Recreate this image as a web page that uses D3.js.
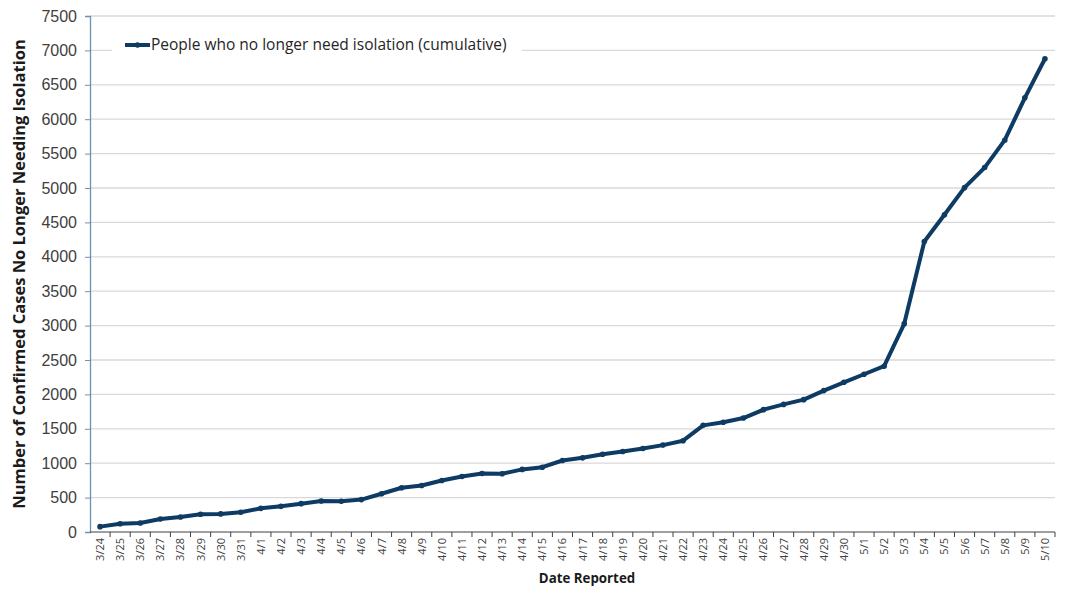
<!DOCTYPE html>
<html>
<head>
<meta charset="utf-8">
<script src="https://cdn.jsdelivr.net/npm/d3@7"></script>
<style>
  body { margin: 0; background: #fff; }
  svg { font-family: "Open Sans", Lato, sans-serif; }
  .grid line { stroke: #d9d9d9; stroke-width: 1.3; }
  .y-axis text { font-size: 16px; fill: #404040; }
  .x-axis text { font-size: 11px; fill: #404040; }
</style>
</head>
<body>
<svg></svg>
<script>
const w = 1066;
const h = 589;

// Data
const dates = ["3/24", "3/25", "3/26", "3/27", "3/28", "3/29", "3/30", "3/31",
  "4/1", "4/2", "4/3", "4/4", "4/5", "4/6", "4/7", "4/8", "4/9", "4/10",
  "4/11", "4/12", "4/13", "4/14", "4/15", "4/16", "4/17", "4/18", "4/19", "4/20",
  "4/21", "4/22", "4/23", "4/24", "4/25", "4/26", "4/27", "4/28", "4/29", "4/30",
  "5/1", "5/2", "5/3", "5/4", "5/5", "5/6", "5/7", "5/8", "5/9", "5/10"];
const noLongerIsolated = [78, 121, 131, 189, 219, 257, 263, 287,
  344, 373, 412, 450, 447, 471, 556, 643, 675, 748,
  806, 850, 846, 910, 942, 1039, 1078, 1131, 1171, 1214,
  1263, 1327, 1550, 1596, 1656, 1778, 1855, 1924, 2055, 2176,
  2293, 2410, 3026, 4222, 4612, 5005, 5297, 5695, 6310, 6879];
const yTicks = d3.range(0, 7501, 500);
const seriesName = "People who no longer need isolation (cumulative)";

const margin = {top: 16, right: 11, bottom: 57, left: 90};

const svg = d3.select("svg")
    .attr("width", w)
    .attr("height", h);

const x = d3.scaleBand()
    .domain(dates)
    .range([margin.left, w - margin.right]);

const y = d3.scaleLinear()
    .domain([0, 7500])
    .range([h - margin.bottom, margin.top]);

// Grid
svg.append("g")
    .attr("class", "grid")
    .selectAll("line")
    .data(yTicks.filter(d => d > 0))
    .enter()
    .append("line")
    .attr("x1", margin.left)
    .attr("x2", w - margin.right)
    .attr("y1", d => y(d))
    .attr("y2", d => y(d));

// Y axis
const yAxis = svg.append("g")
    .attr("class", "y-axis")
    .attr("transform", `translate(${margin.left},0)`)
    .call(d3.axisLeft(y).tickValues(yTicks).tickSize(5).tickPadding(8).tickFormat(d3.format("d")));
yAxis.select(".domain").attr("stroke", "#6f8fb3").attr("stroke-width", 1.3);
yAxis.selectAll(".tick line").attr("stroke", "#6f8fb3");

// X axis: ticks between categories like the original
const xAxis = svg.append("g")
    .attr("class", "x-axis")
    .attr("transform", `translate(0,${y(0)})`);
xAxis.append("line")
    .attr("x1", margin.left)
    .attr("x2", w - margin.right)
    .attr("stroke", "#404040")
    .attr("stroke-width", 1.2);
xAxis.selectAll(".sep")
    .data(dates)
    .enter()
    .append("line")
    .attr("class", "sep")
    .attr("x1", d => x(d) + x.bandwidth())
    .attr("x2", d => x(d) + x.bandwidth())
    .attr("y1", 0)
    .attr("y2", 5)
    .attr("stroke", "#404040");
xAxis.selectAll("text")
    .data(dates)
    .enter()
    .append("text")
    .attr("transform", d => `translate(${x(d) + x.bandwidth() / 2 + 4},6) rotate(-90)`)
    .attr("text-anchor", "end")
    .text(d => d);

// Axis titles
svg.append("text")
    .attr("x", 587)
    .attr("y", 583)
    .attr("text-anchor", "middle")
    .attr("font-size", 13.3)
    .attr("font-weight", "bold")
    .attr("fill", "#1a1a1a")
    .text("Date Reported");

svg.append("text")
    .attr("transform", `translate(25,${(margin.top + h - margin.bottom) / 2}) rotate(-90)`)
    .attr("text-anchor", "middle")
    .attr("font-size", 16.5)
    .attr("font-weight", "bold")
    .attr("fill", "#1a1a1a")
    .text("Number of Confirmed Cases No Longer Needing Isolation");

// Line
const lineColor = "#0d3b63";
const line = d3.line()
    .x((d, i) => x(dates[i]) + x.bandwidth() / 2)
    .y(d => y(d));

svg.append("path")
    .datum(noLongerIsolated)
    .attr("fill", "none")
    .attr("stroke", lineColor)
    .attr("stroke-width", 4)
    .attr("stroke-linejoin", "round")
    .attr("d", line);

svg.selectAll(".pt")
    .data(noLongerIsolated)
    .enter()
    .append("circle")
    .attr("class", "pt")
    .attr("cx", (d, i) => x(dates[i]) + x.bandwidth() / 2)
    .attr("cy", d => y(d))
    .attr("r", 2.8)
    .attr("fill", lineColor);

// Legend
const legend = svg.append("g");
legend.append("rect")
    .attr("x", 112)
    .attr("y", 33)
    .attr("width", 410)
    .attr("height", 24)
    .attr("fill", "#fff");
legend.append("line")
    .attr("x1", 125)
    .attr("x2", 150)
    .attr("y1", 45)
    .attr("y2", 45)
    .attr("stroke", lineColor)
    .attr("stroke-width", 4);
legend.append("circle")
    .attr("cx", 137.5)
    .attr("cy", 45)
    .attr("r", 2.8)
    .attr("fill", lineColor);
legend.append("text")
    .attr("x", 151)
    .attr("y", 50)
    .attr("font-size", 15.5)
    .attr("fill", "#262626")
    .text(seriesName);
</script>
</body>
</html>
